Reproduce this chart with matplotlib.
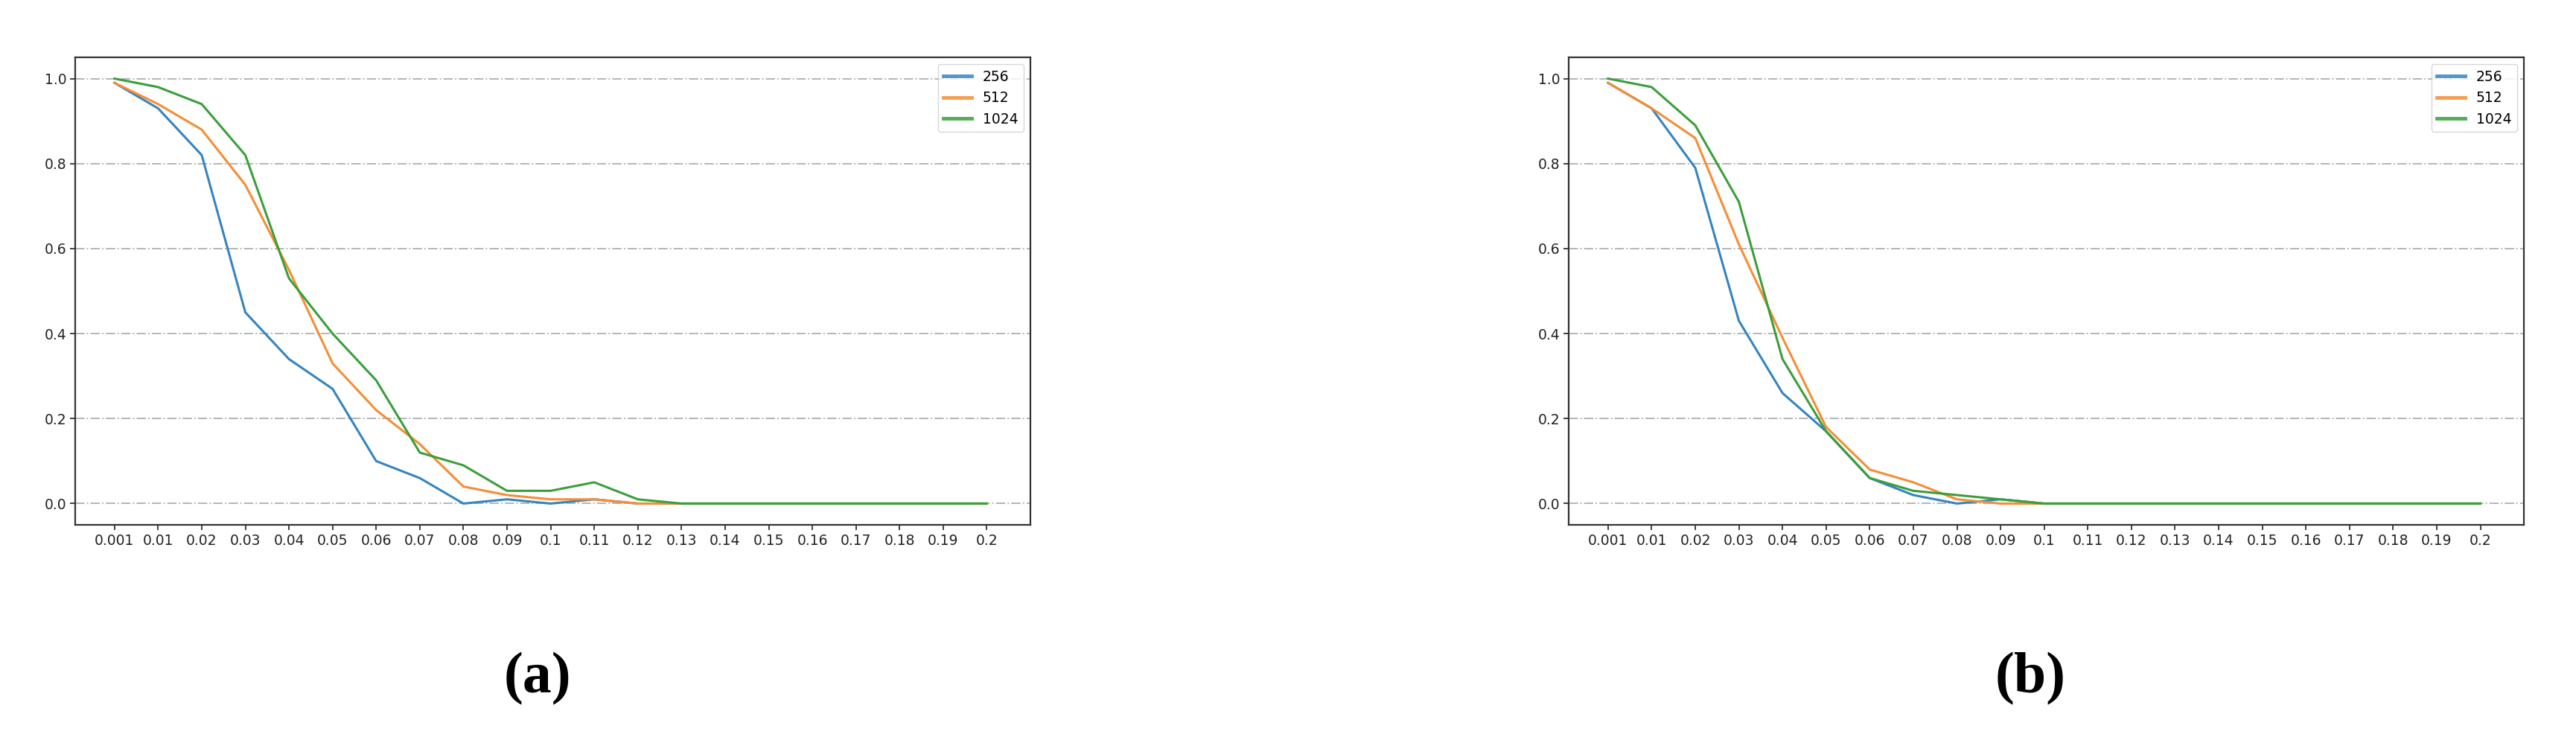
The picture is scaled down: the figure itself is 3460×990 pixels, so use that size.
import matplotlib
matplotlib.use("Agg")
import matplotlib.pyplot as plt

# ── Data ─────────────────────────────────────────────────────────
x_labels = ["0.001", "0.01", "0.02", "0.03", "0.04", "0.05", "0.06", "0.07",
            "0.08", "0.09", "0.1", "0.11", "0.12", "0.13", "0.14", "0.15",
            "0.16", "0.17", "0.18", "0.19", "0.2"]
series_names = ["256", "512", "1024"]

# panel (a)
a_256  = [0.99, 0.93, 0.82, 0.45, 0.34, 0.27, 0.10, 0.06, 0.00, 0.01, 0.00,
          0.01, 0.00, 0.00, 0.00, 0.00, 0.00, 0.00, 0.00, 0.00, 0.00]
a_512  = [0.99, 0.94, 0.88, 0.75, 0.55, 0.33, 0.22, 0.14, 0.04, 0.02, 0.01,
          0.01, 0.00, 0.00, 0.00, 0.00, 0.00, 0.00, 0.00, 0.00, 0.00]
a_1024 = [1.00, 0.98, 0.94, 0.82, 0.53, 0.40, 0.29, 0.12, 0.09, 0.03, 0.03,
          0.05, 0.01, 0.00, 0.00, 0.00, 0.00, 0.00, 0.00, 0.00, 0.00]

# panel (b)
b_256  = [0.99, 0.93, 0.79, 0.43, 0.26, 0.17, 0.06, 0.02, 0.00, 0.01, 0.00,
          0.00, 0.00, 0.00, 0.00, 0.00, 0.00, 0.00, 0.00, 0.00, 0.00]
b_512  = [0.99, 0.93, 0.86, 0.61, 0.39, 0.18, 0.08, 0.05, 0.01, 0.00, 0.00,
          0.00, 0.00, 0.00, 0.00, 0.00, 0.00, 0.00, 0.00, 0.00, 0.00]
b_1024 = [1.00, 0.98, 0.89, 0.71, 0.34, 0.17, 0.06, 0.03, 0.02, 0.01, 0.00,
          0.00, 0.00, 0.00, 0.00, 0.00, 0.00, 0.00, 0.00, 0.00, 0.00]

captions = ["(a)", "(b)"]
COLORS = ["#3584c0", "#f58e34", "#3a9f3a"]

# ── Figure ───────────────────────────────────────────────────────
fig = plt.figure(figsize=(34.6, 9.9), dpi=100)
fig.patch.set_facecolor("white")

ax_a = fig.add_axes([0.0292, 0.2879, 0.3708, 0.6343])
ax_b = fig.add_axes([0.6090, 0.2879, 0.3708, 0.6343])

def draw_panel(ax, data):
    idx = range(len(x_labels))
    for vals, name, c in zip(data, series_names, COLORS):
        ax.plot(idx, vals, color=c, linewidth=2.2, label=name)
    ax.set_xticks(list(idx))
    ax.set_xticklabels(x_labels)
    ax.set_xlim(-0.9, len(x_labels))
    ax.set_yticks([0.0, 0.2, 0.4, 0.6, 0.8, 1.0])
    ax.tick_params(labelsize=13.5, length=5, width=1.2, colors="#222222")
    ax.grid(True, axis="y", linestyle="-.", color="#b5b5b5", linewidth=1.4)
    ax.set_axisbelow(True)
    for sp in ax.spines.values():
        sp.set_edgecolor("#333333")
        sp.set_linewidth(1.6)
    leg = ax.legend(loc="upper right", fontsize=13.5, handlelength=2.0,
                    framealpha=0.8)
    for line in leg.get_lines():
        line.set_linewidth(3.5)
        line.set_alpha(0.85)

draw_panel(ax_a, [a_256, a_512, a_1024])
draw_panel(ax_b, [b_256, b_512, b_1024])

# sub-figure captions
fig.text(722 / 3460, 1 - 912 / 990, captions[0], ha="center", va="center",
         fontsize=56, fontweight="bold", family="Liberation Serif")
fig.text(2727 / 3460, 1 - 912 / 990, captions[1], ha="center", va="center",
         fontsize=56, fontweight="bold", family="Liberation Serif")

plt.savefig("out.png", dpi=100, facecolor="white")
